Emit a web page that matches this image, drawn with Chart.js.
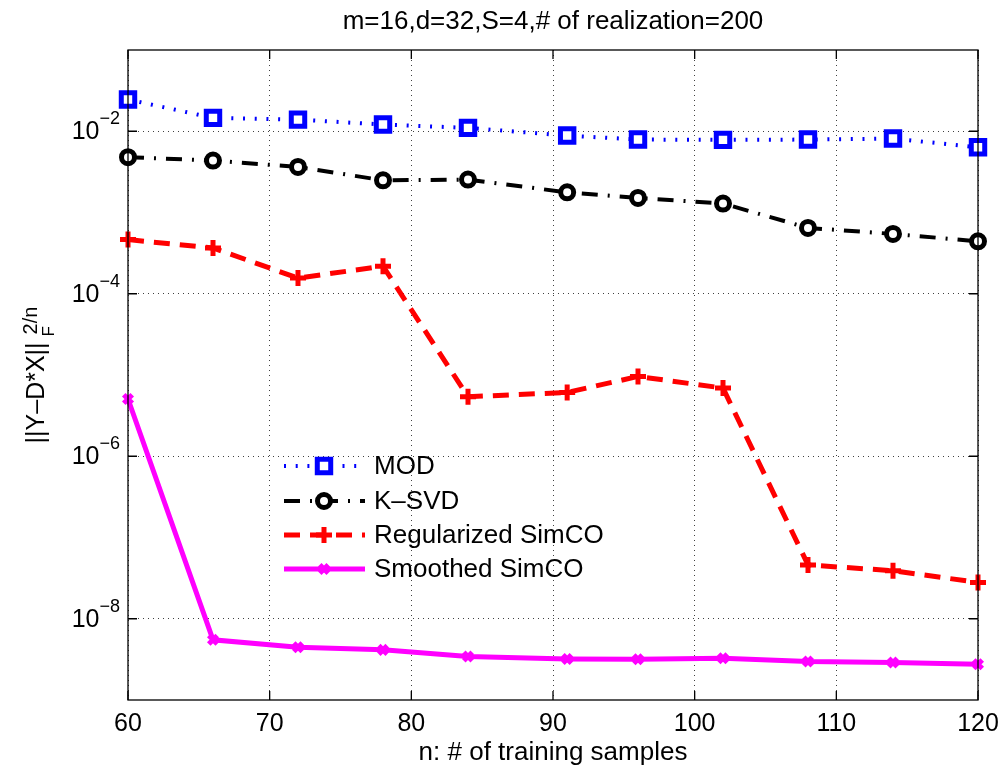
<!DOCTYPE html>
<html>
<head>
<meta charset="utf-8">
<script src="https://cdn.jsdelivr.net/npm/chart.js@4.4.1/dist/chart.umd.min.js"></script>
<style>
  html, body { margin: 0; padding: 0; background: #fff; }
  canvas { display: block; }
</style>
</head>
<body>
<canvas id="errChart" width="1005" height="773"></canvas>
<script>
// training sample counts (x) and the four error curves (y, log scale)
const nSamples = [60, 66, 72, 78, 84, 91, 96, 102, 108, 114, 120];
const modErr = [0.0246, 0.0146, 0.0139, 0.0121, 0.0110, 0.00885, 0.00791, 0.00783, 0.0079, 0.00813, 0.00635];
const ksvdErr = [0.00479, 0.00436, 0.00364, 0.00249, 0.00254, 0.00177, 0.00151, 0.00129, 0.000646, 0.000545, 0.000442];
const regSimcoErr = [4.64e-4, 3.66e-4, 1.56e-4, 2.18e-4, 5.4e-6, 6.1e-6, 9.6e-6, 6.9e-6, 4.6e-8, 3.9e-8, 2.8e-8];
const smoothSimcoErr = [5.06e-6, 5.5e-9, 4.47e-9, 4.14e-9, 3.43e-9, 3.2e-9, 3.18e-9, 3.27e-9, 2.97e-9, 2.89e-9, 2.76e-9];

const xTicks = [60, 70, 80, 90, 100, 110, 120];
const yTicks = [1e-8, 1e-6, 1e-4, 1e-2];
const seriesNames = ['MOD', 'K\u2013SVD', 'Regularized SimCO', 'Smoothed SimCO'];

const FONT = '"Liberation Sans", Arial, Helvetica, sans-serif';
const pts = arr => nSamples.map((n, i) => ({ x: n, y: arr[i] }));

// ── series styles (shared with the hand-drawn legend) ───────────
const styles = [
    { color: '#0000ff', width: 4, dash: [2, 9.7], point: 'rect', r: 9.5, pw: 5, fill: '#fff' },
    { color: '#000000', width: 4, dash: [16, 10, 2, 10], point: 'circle', r: 6.5, pw: 5, fill: '#fff' },
    { color: '#ff0000', width: 5, dash: [16, 10], point: 'cross', r: 8, pw: 5, fill: '#ff0000' },
    { color: '#ff00ff', width: 5, dash: [], point: 'crossRot', r: 6, pw: 5, fill: '#ff00ff' },
];

const makeSet = (label, arr, s) => ({
    label,
    data: pts(arr),
    borderColor: s.color,
    borderWidth: s.width,
    borderDash: s.dash,
    pointStyle: s.point,
    pointRadius: s.r,
    pointBorderWidth: s.pw,
    pointBorderColor: s.color,
    pointBackgroundColor: s.fill,
    tension: 0,
    clip: false,
});

// pick a font size so the text spans about the width seen in the figure
function fitFont(ctx, text, width, start) {
    let size = start;
    ctx.font = size + 'px ' + FONT;
    while (ctx.measureText(text).width > width && size > 10) {
        size -= 0.5;
        ctx.font = size + 'px ' + FONT;
    }
    return size;
}

// ── axes decoration, labels, legend (MATLAB look) ───────────────
const matlabAxes = {
    id: 'matlabAxes',
    afterDraw(chart) {
        const ctx = chart.ctx;
        const ca = chart.chartArea;
        const xs = chart.scales.x, ys = chart.scales.y;
        ctx.save();
        ctx.setLineDash([]);
        ctx.strokeStyle = '#000';
        ctx.lineWidth = 1.3;
        ctx.strokeRect(ca.left, ca.top, ca.right - ca.left, ca.bottom - ca.top);

        // inward ticks
        const tl = 9;
        ctx.beginPath();
        xTicks.forEach(v => {
            const px = xs.getPixelForValue(v);
            ctx.moveTo(px, ca.bottom); ctx.lineTo(px, ca.bottom - tl);
            ctx.moveTo(px, ca.top); ctx.lineTo(px, ca.top + tl);
        });
        yTicks.forEach(v => {
            const py = ys.getPixelForValue(v);
            ctx.moveTo(ca.left, py); ctx.lineTo(ca.left + tl, py);
            ctx.moveTo(ca.right, py); ctx.lineTo(ca.right - tl, py);
        });
        ctx.stroke();

        ctx.fillStyle = '#000';
        // x tick labels
        ctx.font = '25px ' + FONT;
        ctx.textAlign = 'center';
        ctx.textBaseline = 'middle';
        xTicks.forEach(v => ctx.fillText(String(v), xs.getPixelForValue(v), 724));

        // y tick labels 10^k
        yTicks.forEach(v => {
            const py = ys.getPixelForValue(v);
            const exp = '\u2212' + Math.round(-Math.log10(v));
            ctx.font = '18px ' + FONT;
            const ew = ctx.measureText(exp).width;
            ctx.font = '25px ' + FONT;
            ctx.textAlign = 'right';
            ctx.textBaseline = 'middle';
            const right = ca.left - 8;
            ctx.fillText('10', right - ew, py + 1);
            ctx.font = '18px ' + FONT;
            ctx.textAlign = 'left';
            ctx.fillText(exp, right - ew, py - 12);
        });

        // title and x-axis label
        const cx = (ca.left + ca.right) / 2;
        ctx.textAlign = 'center';
        ctx.textBaseline = 'middle';
        const title = 'm=16,d=32,S=4,# of realization=200';
        fitFont(ctx, title, 428, 26);
        ctx.fillText(title, cx, 22);
        const xTitle = 'n: # of training samples';
        fitFont(ctx, xTitle, 276, 26);
        ctx.fillText(xTitle, cx, 753);

        // y-axis label ||Y-D*X||_F^2/n
        ctx.save();
        ctx.translate(35, (ca.top + ca.bottom) / 2);
        ctx.rotate(-Math.PI / 2);
        ctx.textAlign = 'left';
        ctx.textBaseline = 'alphabetic';
        ctx.font = '25px ' + FONT;
        const main = '||Y\u2013D*X||';
        const mw = ctx.measureText(main).width;
        ctx.font = '20px ' + FONT;
        const tail = '2/n';
        const total = mw + 8 + ctx.measureText(tail).width;
        const x0 = -total / 2;
        ctx.font = '25px ' + FONT;
        ctx.fillText(main, x0, 9);
        ctx.font = '20px ' + FONT;
        ctx.fillText(tail, x0 + mw + 8, 2);
        ctx.font = '17px ' + FONT;
        ctx.fillText('F', x0 + mw + 6, 19);
        ctx.restore();

        // legend
        const rows = [466, 501, 535, 569];
        const lx0 = 284, lx1 = 365, mx = 324;
        const legSize = fitFont(ctx, seriesNames[2], 231, 28);
        chart.data.datasets.forEach((ds, i) => {
            const s = styles[i];
            const y = rows[i];
            ctx.strokeStyle = s.color;
            ctx.lineWidth = s.width;
            ctx.setLineDash(s.dash);
            ctx.beginPath();
            ctx.moveTo(lx0, y); ctx.lineTo(lx1, y);
            ctx.stroke();
            ctx.setLineDash([]);
            ctx.fillStyle = s.fill;
            ctx.strokeStyle = s.color;
            ctx.lineWidth = s.pw;
            Chart.helpers.drawPoint(ctx, { pointStyle: s.point, radius: s.r, rotation: 0, borderWidth: s.pw }, mx, y);
            ctx.fillStyle = '#000';
            ctx.font = legSize + 'px ' + FONT;
            ctx.textAlign = 'left';
            ctx.textBaseline = 'middle';
            ctx.fillText(ds.label, 374, y + 1);
        });
        ctx.restore();
    }
};

new Chart(document.getElementById('errChart'), {
    type: 'line',
    data: {
        datasets: [
            makeSet(seriesNames[0], modErr, styles[0]),
            makeSet(seriesNames[1], ksvdErr, styles[1]),
            makeSet(seriesNames[2], regSimcoErr, styles[2]),
            makeSet(seriesNames[3], smoothSimcoErr, styles[3]),
        ]
    },
    options: {
        responsive: false,
        animation: false,
        devicePixelRatio: 1,
        layout: { padding: { left: 128, right: 27, top: 50, bottom: 73 } },
        plugins: { legend: { display: false }, title: { display: false }, tooltip: { enabled: false } },
        scales: {
            x: {
                type: 'linear', min: 60, max: 120,
                afterBuildTicks: sc => { sc.ticks = xTicks.map(v => ({ value: v })); },
                ticks: { display: false },
                grid: { color: 'rgba(0,0,0,0.75)', lineWidth: 1, drawTicks: false },
                border: { display: false, dash: [1, 4] }
            },
            y: {
                type: 'logarithmic', min: 1e-9, max: 1e-1,
                afterBuildTicks: sc => { sc.ticks = yTicks.map(v => ({ value: v })); },
                ticks: { display: false },
                grid: { color: 'rgba(0,0,0,0.75)', lineWidth: 1, drawTicks: false },
                border: { display: false, dash: [1, 4] }
            }
        }
    },
    plugins: [matlabAxes]
});
</script>
</body>
</html>
